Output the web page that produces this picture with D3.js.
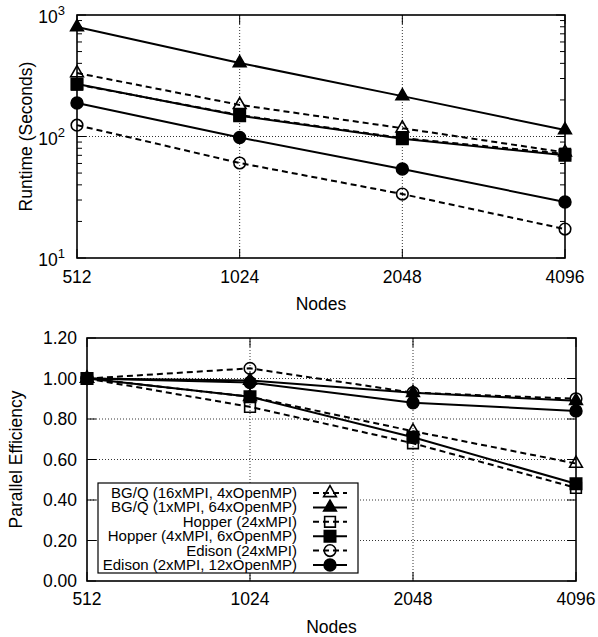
<!DOCTYPE html>
<html>
<head>
<meta charset="utf-8">
<script src="https://cdn.jsdelivr.net/npm/d3@7"></script>
<style>
  body { margin: 0; background: #fff; }
  svg { font-family: "Liberation Sans", Arial, sans-serif; }
</style>
</head>
<body>
<svg id="chart" width="598" height="637"></svg>
<script>
// data
const nodes = [512, 1024, 2048, 4096];
const seriesNames = [
  "BG/Q (16xMPI, 4xOpenMP)",
  "BG/Q (1xMPI, 64xOpenMP)",
  "Hopper (24xMPI)",
  "Hopper (4xMPI, 6xOpenMP)",
  "Edison (24xMPI)",
  "Edison (2xMPI, 12xOpenMP)"
];
const runtimeBgq16 = [333, 182, 117, 74];
const runtimeBgq1 = [797, 403, 215, 113];
const runtimeHopper24 = [268, 150, 97, 72];
const runtimeHopper4 = [270, 148, 96, 70];
const runtimeEdison24 = [124, 60.5, 33.6, 17.3];
const runtimeEdison2 = [189, 98, 54, 28.9];

const effBgq16 = [1.0, 0.91, 0.74, 0.58];
const effBgq1 = [1.0, 0.99, 0.93, 0.89];
const effHopper24 = [1.0, 0.86, 0.68, 0.46];
const effHopper4 = [1.0, 0.91, 0.71, 0.48];
const effEdison24 = [1.0, 1.05, 0.93, 0.90];
const effEdison2 = [1.0, 0.98, 0.88, 0.84];

const effTicks = [0, 0.2, 0.4, 0.6, 0.8, 1.0, 1.2];

// styles per series: marker shape, filled, dashed
const styles = [
  { shape: d3.symbolTriangle, size: 70, fill: false, dash: true },
  { shape: d3.symbolTriangle, size: 70, fill: true, dash: false },
  { shape: d3.symbolSquare, size: 115, fill: false, dash: true },
  { shape: d3.symbolSquare, size: 130, fill: true, dash: false },
  { shape: d3.symbolCircle, size: 105, fill: false, dash: true },
  { shape: d3.symbolCircle, size: 110, fill: true, dash: false }
];

const runtime = [runtimeBgq16, runtimeBgq1, runtimeHopper24, runtimeHopper4, runtimeEdison24, runtimeEdison2];
const eff = [effBgq16, effBgq1, effHopper24, effHopper4, effEdison24, effEdison2];

const FS = 17.5;
const svg = d3.select("#chart");

function drawSeries(g, x, y, values, st) {
  const line = d3.line().x((d, i) => x(nodes[i])).y(d => y(d));
  g.append("path")
    .attr("d", line(values))
    .attr("fill", "none")
    .attr("stroke", "#000")
    .attr("stroke-width", 2)
    .attr("stroke-dasharray", st.dash ? "6,4" : null);
  g.selectAll(null)
    .data(values)
    .enter()
    .append("path")
    .attr("transform", (d, i) => `translate(${x(nodes[i])},${y(d)})`)
    .attr("d", d3.symbol().type(st.shape).size(st.size))
    .attr("fill", st.fill ? "#000" : "none")
    .attr("stroke", "#000")
    .attr("stroke-width", 1.6);
}

// ---------- top: runtime ----------
{
  const left = 77, right = 565, top = 15, bottom = 258;
  const x = d3.scaleLog().base(2).domain([512, 4096]).range([left, right]);
  const y = d3.scaleLog().domain([10, 1000]).range([bottom, top]);
  const g = svg.append("g");

  // grid
  g.selectAll(null).data([1024, 2048]).enter().append("line")
    .attr("x1", d => x(d)).attr("x2", d => x(d))
    .attr("y1", top).attr("y2", bottom)
    .attr("stroke", "#000").attr("stroke-width", 0.8).attr("stroke-dasharray", "1,2");
  g.append("line")
    .attr("x1", left).attr("x2", right).attr("y1", y(100)).attr("y2", y(100))
    .attr("stroke", "#000").attr("stroke-width", 0.8).attr("stroke-dasharray", "1,2");

  // ticks inside, both sides
  const minor = [];
  [10, 100].forEach(b => { for (let k = 2; k <= 9; k++) minor.push(b * k); });
  [left, right].forEach((px, side) => {
    const dir = side === 0 ? 1 : -1;
    g.selectAll(null).data(minor).enter().append("line")
      .attr("x1", px).attr("x2", px + dir * 5)
      .attr("y1", d => y(d)).attr("y2", d => y(d))
      .attr("stroke", "#000").attr("stroke-width", 1);
    g.selectAll(null).data([10, 100, 1000]).enter().append("line")
      .attr("x1", px).attr("x2", px + dir * 9)
      .attr("y1", d => y(d)).attr("y2", d => y(d))
      .attr("stroke", "#000").attr("stroke-width", 1);
  });
  [bottom, top].forEach((py, side) => {
    const dir = side === 0 ? -1 : 1;
    g.selectAll(null).data(nodes).enter().append("line")
      .attr("x1", d => x(d)).attr("x2", d => x(d))
      .attr("y1", py).attr("y2", py + dir * 9)
      .attr("stroke", "#000").attr("stroke-width", 1);
  });

  // y tick labels 10^n
  [[10, 1], [100, 2], [1000, 3]].forEach(([v, p]) => {
    const t = g.append("text")
      .attr("x", left - 12).attr("y", y(v) + 8)
      .attr("text-anchor", "end").attr("font-size", FS);
    t.append("tspan").text("10");
    t.append("tspan").attr("dy", -8).attr("font-size", 13).text(p);
  });
  // x tick labels
  g.selectAll(null).data(nodes).enter().append("text")
    .attr("x", d => x(d)).attr("y", 283)
    .attr("text-anchor", "middle").attr("font-size", FS)
    .text(d => d);

  g.append("text").attr("x", (left + right) / 2).attr("y", 310)
    .attr("text-anchor", "middle").attr("font-size", FS).text("Nodes");
  g.append("text")
    .attr("transform", `translate(32,${(top + bottom) / 2}) rotate(-90)`)
    .attr("text-anchor", "middle").attr("font-size", FS).text("Runtime (Seconds)");

  runtime.forEach((vals, i) => drawSeries(g, x, y, vals, styles[i]));

  g.append("rect").attr("x", left).attr("y", top)
    .attr("width", right - left).attr("height", bottom - top)
    .attr("fill", "none").attr("stroke", "#000").attr("stroke-width", 1.6);
}

// ---------- bottom: parallel efficiency ----------
{
  const left = 87, right = 576, top = 338, bottom = 581;
  const x = d3.scaleLog().base(2).domain([512, 4096]).range([left, right]);
  const y = d3.scaleLinear().domain([0, 1.2]).range([bottom, top]);
  const g = svg.append("g");

  g.selectAll(null).data([1024, 2048]).enter().append("line")
    .attr("x1", d => x(d)).attr("x2", d => x(d))
    .attr("y1", top).attr("y2", bottom)
    .attr("stroke", "#000").attr("stroke-width", 0.8).attr("stroke-dasharray", "1,2");
  g.selectAll(null).data(effTicks.slice(1, -1)).enter().append("line")
    .attr("x1", left).attr("x2", right).attr("y1", d => y(d)).attr("y2", d => y(d))
    .attr("stroke", "#000").attr("stroke-width", 0.8).attr("stroke-dasharray", "1,2");

  [left, right].forEach((px, side) => {
    const dir = side === 0 ? 1 : -1;
    g.selectAll(null).data(effTicks).enter().append("line")
      .attr("x1", px).attr("x2", px + dir * 9)
      .attr("y1", d => y(d)).attr("y2", d => y(d))
      .attr("stroke", "#000").attr("stroke-width", 1);
  });
  [bottom, top].forEach((py, side) => {
    const dir = side === 0 ? -1 : 1;
    g.selectAll(null).data(nodes).enter().append("line")
      .attr("x1", d => x(d)).attr("x2", d => x(d))
      .attr("y1", py).attr("y2", py + dir * 9)
      .attr("stroke", "#000").attr("stroke-width", 1);
  });

  g.selectAll(null).data(effTicks).enter().append("text")
    .attr("x", left - 10).attr("y", d => y(d) + 6)
    .attr("text-anchor", "end").attr("font-size", FS)
    .text(d => d.toFixed(2));
  g.selectAll(null).data(nodes).enter().append("text")
    .attr("x", d => x(d)).attr("y", 605)
    .attr("text-anchor", "middle").attr("font-size", FS)
    .text(d => d);

  g.append("text").attr("x", (left + right) / 2).attr("y", 633)
    .attr("text-anchor", "middle").attr("font-size", FS).text("Nodes");
  g.append("text")
    .attr("transform", `translate(22,${(top + bottom) / 2}) rotate(-90)`)
    .attr("text-anchor", "middle").attr("font-size", FS).text("Parallel Efficiency");

  eff.forEach((vals, i) => drawSeries(g, x, y, vals, styles[i]));

  g.append("rect").attr("x", left).attr("y", top)
    .attr("width", right - left).attr("height", bottom - top)
    .attr("fill", "none").attr("stroke", "#000").attr("stroke-width", 1.6);

  // legend
  const lx = 98, ly = 483, lw = 260, lh = 90, row = 14.4;
  const lg = g.append("g");
  lg.append("rect").attr("x", lx).attr("y", ly).attr("width", lw).attr("height", lh)
    .attr("fill", "#fff").attr("stroke", "#000").attr("stroke-width", 1.2);
  seriesNames.forEach((name, i) => {
    const cy = ly + 10 + i * row;
    lg.append("text").attr("x", 297).attr("y", cy + 5)
      .attr("text-anchor", "end").attr("font-size", 15).text(name);
    const st = styles[i];
    lg.append("line").attr("x1", 313).attr("x2", 347).attr("y1", cy).attr("y2", cy)
      .attr("stroke", "#000").attr("stroke-width", 2)
      .attr("stroke-dasharray", st.dash ? "6,4" : null);
    lg.append("path").attr("transform", `translate(330,${cy})`)
      .attr("d", d3.symbol().type(st.shape).size(st.size))
      .attr("fill", st.fill ? "#000" : "none")
      .attr("stroke", "#000").attr("stroke-width", 1.6);
  });
}
</script>
</body>
</html>
